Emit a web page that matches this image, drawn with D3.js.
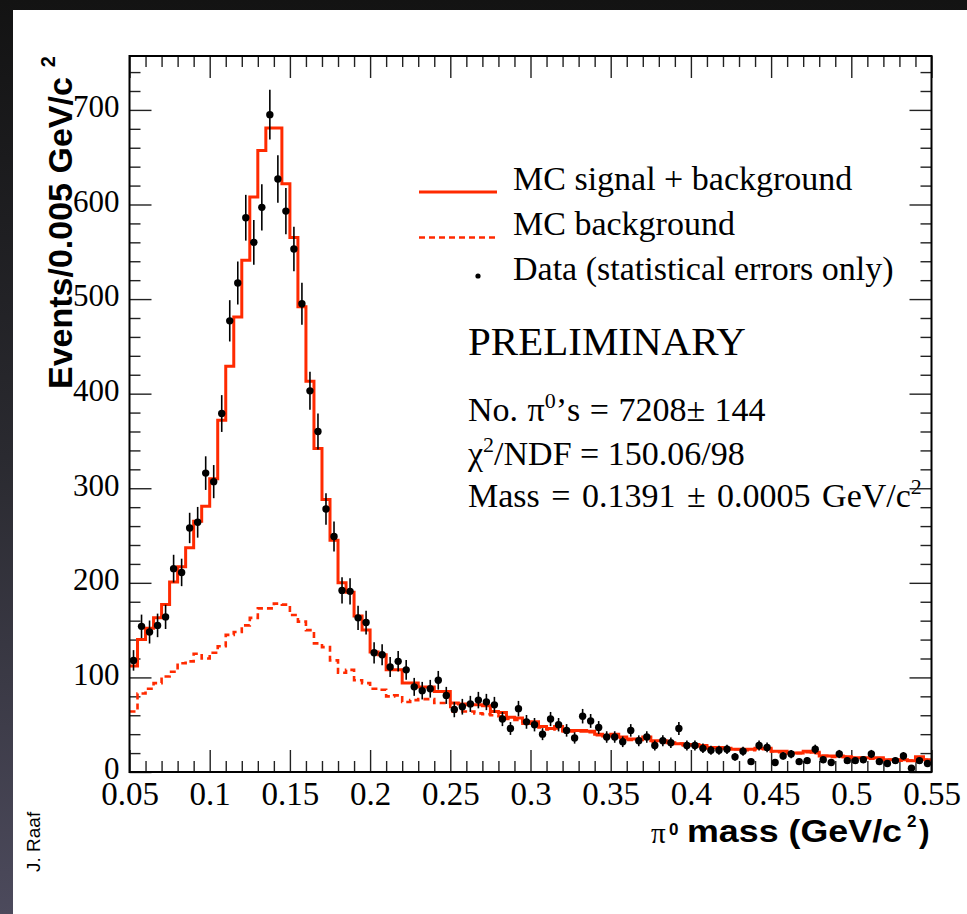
<!DOCTYPE html>
<html>
<head>
<meta charset="utf-8">
<script src="https://cdn.jsdelivr.net/npm/d3@7"></script>
<style>
body { margin: 0; background: #161616; }
svg { display: block; }
</style>
</head>
<body>
<div id="chart"></div>
<script>
// histogram binning: 100 bins of 0.005 GeV/c2 from 0.05 to 0.55
var binLow = 0.05, binWidth = 0.005;

// data counts per bin (statistical errors = sqrt(N))
var dataCounts = [
  118, 154, 148, 155, 164, 215, 211, 258, 264, 316,
  307, 379, 477, 517, 586, 560, 597, 695, 627, 593,
  553, 495, 403, 360, 278, 249, 192, 191, 163, 158,
  126, 124, 111, 117, 108, 90, 86, 88, 97, 81,
  66, 69, 72, 76, 74, 71, 56, 46, 67, 53,
  50, 40, 56, 50, 44, 36, 59, 54, 47, 37,
  37, 32, 44, 33, 37, 28, 33, 31, 46, 28,
  28, 25, 23, 23, 24, 16, 22, 11, 28, 26,
  10, 17, 19, 11, 12, 24, 13, 10, 19, 12,
  12, 13, 19, 11, 9, 12, 17, 4, 12, 9
];

// MC signal + background
var mcTotal = [
  112, 140, 152, 163, 177, 201, 217, 237, 265, 281,
  310, 372, 429, 481, 541, 608, 657, 681, 681, 622,
  565, 492, 413, 342, 288, 245, 200, 190, 165, 150,
  127, 124, 108, 108, 94, 94, 90, 90, 85, 85,
  73, 72, 71, 71, 70, 64, 63, 58, 57, 53,
  53, 48, 46, 48, 44, 44, 44, 43, 40, 38,
  40, 37, 35, 35, 37, 33, 33, 31, 30, 29,
  29, 28, 26, 26, 25, 24, 24, 24, 25, 25,
  22, 22, 20, 20, 22, 21, 17, 17, 17, 16,
  15, 15, 15, 15, 13, 13, 13, 12, 16, 13
];

// MC background only
var mcBackground = [
  64, 83, 88, 94, 101, 106, 115, 117, 125, 120,
  126, 133, 145, 148, 155, 163, 173, 173, 178, 177,
  166, 159, 150, 136, 132, 118, 105, 108, 97, 94,
  88, 87, 80, 81, 74, 76, 77, 77, 73, 73,
  64, 64, 64, 62, 61, 60, 59, 56, 55, 51,
  51, 47, 45, 46, 43, 43, 43, 42, 39, 37,
  39, 36, 34, 34, 36, 32, 32, 30, 30, 28,
  28, 27, 25, 25, 25, 24, 23, 23, 25, 24,
  22, 21, 20, 20, 21, 20, 17, 16, 16, 16,
  15, 15, 14, 14, 13, 13, 12, 12, 15, 13
];

var xTickValues = [0.05, 0.1, 0.15, 0.2, 0.25, 0.3, 0.35, 0.4, 0.45, 0.5, 0.55];
var yTickValues = [0, 100, 200, 300, 400, 500, 600, 700];

var legendLabels = ["MC signal + background", "MC background", "Data (statistical errors only)"];

var margin = { top: 56, right: 35.5, bottom: 142, left: 129.5 },
    width = 967 - margin.left - margin.right,
    height = 914 - margin.top - margin.bottom;

var red = "#ff2a00";
var serif = "'Liberation Serif', 'Times New Roman', serif";
var sans = "'Liberation Sans', Arial, sans-serif";

var svg = d3.select("#chart").append("svg")
    .attr("width", 967)
    .attr("height", 914);

// slide background + white panel
var grad = svg.append("defs").append("linearGradient")
    .attr("id", "bg")
    .attr("x1", 0).attr("y1", 0).attr("x2", 0).attr("y2", 1);
grad.append("stop").attr("offset", "0%").attr("stop-color", "#131313");
grad.append("stop").attr("offset", "50%").attr("stop-color", "#2a2a30");
grad.append("stop").attr("offset", "100%").attr("stop-color", "#4c4a5c");

svg.append("rect").attr("width", 967).attr("height", 914).attr("fill", "url(#bg)");
svg.append("rect").attr("x", 13).attr("y", 10).attr("width", 954).attr("height", 904).attr("fill", "#fff");

var g = svg.append("g")
    .attr("transform", "translate(" + margin.left + "," + margin.top + ")");

var x = d3.scaleLinear().domain([0.05, 0.55]).range([0, width]);
var y = d3.scaleLinear().domain([0, 757]).range([height, 0]);

var xMinor = d3.range(5, 56).filter(function(i) { return i % 5 !== 0; }).map(function(i) { return i / 100; });
var yMinor = d3.range(0, 757, 20).filter(function(v) { return v % 100 !== 0; });

function styleAxis(sel) {
    sel.select(".domain").remove();
    sel.selectAll(".tick line").attr("stroke", "#222").attr("stroke-width", 1.4);
    sel.selectAll("text").attr("fill", "#000");
}

// minor + major ticks on all four sides (inside)
g.append("g").attr("transform", "translate(0," + height + ")")
    .call(d3.axisBottom(x).tickValues(xMinor).tickSize(-11).tickFormat(""))
    .call(styleAxis);
g.append("g").attr("transform", "translate(0," + height + ")")
    .call(d3.axisBottom(x).tickValues(xTickValues).tickSize(-22).tickPadding(10)
        .tickFormat(function(d) { return +d.toFixed(2); }))
    .call(styleAxis)
    .attr("font-family", serif).attr("font-size", 33);
g.append("g")
    .call(d3.axisTop(x).tickValues(xMinor).tickSize(-11).tickFormat(""))
    .call(styleAxis);
g.append("g")
    .call(d3.axisTop(x).tickValues(xTickValues).tickSize(-22).tickFormat(""))
    .call(styleAxis);

g.append("g")
    .call(d3.axisLeft(y).tickValues(yMinor).tickSize(-11).tickFormat(""))
    .call(styleAxis);
g.append("g")
    .call(d3.axisLeft(y).tickValues(yTickValues).tickSize(-22).tickPadding(10))
    .call(styleAxis)
    .attr("font-family", serif).attr("font-size", 31)
    .selectAll("text").attr("dy", "0.22em");
g.append("g").attr("transform", "translate(" + width + ",0)")
    .call(d3.axisRight(y).tickValues(yMinor).tickSize(-11).tickFormat(""))
    .call(styleAxis);
g.append("g").attr("transform", "translate(" + width + ",0)")
    .call(d3.axisRight(y).tickValues(yTickValues).tickSize(-22).tickFormat(""))
    .call(styleAxis);

// histograms
function stepPoints(vals) {
    var pts = vals.map(function(v, i) { return [binLow + i * binWidth, v]; });
    pts.push([binLow + vals.length * binWidth, vals[vals.length - 1]]);
    return pts;
}
var step = d3.line()
    .x(function(d) { return x(d[0]); })
    .y(function(d) { return y(d[1]); })
    .curve(d3.curveStepAfter);

g.append("path")
    .attr("d", step(stepPoints(mcBackground)))
    .attr("fill", "none")
    .attr("stroke", red)
    .attr("stroke-width", 2.6)
    .attr("stroke-dasharray", "6,4");

g.append("path")
    .attr("d", step(stepPoints(mcTotal)))
    .attr("fill", "none")
    .attr("stroke", red)
    .attr("stroke-width", 3);

// data points with sqrt(N) error bars
var pts = g.selectAll(".pt")
    .data(dataCounts)
    .enter().append("g")
    .attr("class", "pt");

pts.append("line")
    .attr("x1", function(d, i) { return x(binLow + (i + 0.5) * binWidth); })
    .attr("x2", function(d, i) { return x(binLow + (i + 0.5) * binWidth); })
    .attr("y1", function(d) { return y(d + Math.sqrt(d)); })
    .attr("y2", function(d) { return y(Math.max(0, d - Math.sqrt(d))); })
    .attr("stroke", "#000")
    .attr("stroke-width", 1.6);

pts.append("circle")
    .attr("cx", function(d, i) { return x(binLow + (i + 0.5) * binWidth); })
    .attr("cy", function(d) { return y(d); })
    .attr("r", 3.7)
    .attr("fill", "#000");

// frame
g.append("rect")
    .attr("width", width)
    .attr("height", height)
    .attr("fill", "none")
    .attr("stroke", "#000")
    .attr("stroke-width", 2);

// legend
var legend = svg.append("g");
legend.append("line")
    .attr("x1", 419).attr("x2", 497).attr("y1", 192).attr("y2", 192)
    .attr("stroke", red).attr("stroke-width", 3);
legend.append("line")
    .attr("x1", 419).attr("x2", 497).attr("y1", 237.5).attr("y2", 237.5)
    .attr("stroke", red).attr("stroke-width", 2.6).attr("stroke-dasharray", "6,4");
legend.append("circle")
    .attr("cx", 478).attr("cy", 276).attr("r", 2.6).attr("fill", "#000");
legend.selectAll("text.leg")
    .data(legendLabels)
    .enter().append("text")
    .attr("class", "leg")
    .attr("x", 513)
    .attr("y", function(d, i) { return 190 + i * 45; })
    .attr("font-family", serif)
    .attr("font-size", 34)
    .attr("fill", "#000")
    .text(function(d) { return d; });

// fit results
svg.append("text")
    .attr("x", 468).attr("y", 355)
    .attr("font-family", serif).attr("font-size", 41)
    .text("PRELIMINARY");

var t1 = svg.append("text")
    .attr("x", 468).attr("y", 421)
    .attr("font-family", serif).attr("font-size", 34)
    .attr("word-spacing", 1);
t1.append("tspan").text("No. \u03c0");
t1.append("tspan").attr("font-size", 22).attr("dy", -13).text("0");
t1.append("tspan").attr("dy", 13).text("\u2019s = 7208\u00b1 144");

var t2 = svg.append("text")
    .attr("x", 468).attr("y", 465)
    .attr("font-family", serif).attr("font-size", 34);
t2.append("tspan").text("\u03c7");
t2.append("tspan").attr("font-size", 22).attr("dy", -13).text("2");
t2.append("tspan").attr("dy", 13).text("/NDF = 150.06/98");

var t3 = svg.append("text")
    .attr("x", 468).attr("y", 507)
    .attr("font-family", serif).attr("font-size", 34)
    .attr("word-spacing", 3);
t3.append("tspan").text("Mass = 0.1391 \u00b1 0.0005 GeV/c");
t3.append("tspan").attr("font-size", 22).attr("dy", -13).text("2");

// y axis title
var yt = svg.append("text")
    .attr("transform", "translate(72,389) rotate(-90)")
    .attr("font-family", sans).attr("font-weight", "bold").attr("font-size", 34)
    .attr("fill", "#000");
yt.append("tspan").text("Events/0.005 GeV/c");
yt.append("tspan").attr("dx", 10).attr("dy", -17).attr("font-size", 20).text("2");

// x axis title
svg.append("text")
    .attr("x", 651).attr("y", 843)
    .attr("font-family", serif).attr("font-size", 29)
    .text("\u03c0");
svg.append("text")
    .attr("x", 669).attr("y", 835)
    .attr("font-family", sans).attr("font-weight", "bold").attr("font-size", 17)
    .text("0");
svg.append("text")
    .attr("x", 687).attr("y", 842)
    .attr("font-family", sans).attr("font-weight", "bold").attr("font-size", 32)
    .attr("textLength", 215).attr("lengthAdjust", "spacingAndGlyphs")
    .text("mass (GeV/c");
svg.append("text")
    .attr("x", 907).attr("y", 827)
    .attr("font-family", sans).attr("font-weight", "bold").attr("font-size", 17)
    .text("2");
svg.append("text")
    .attr("x", 919).attr("y", 842)
    .attr("font-family", sans).attr("font-weight", "bold").attr("font-size", 32)
    .text(")");

// credit
svg.append("text")
    .attr("transform", "translate(40,872) rotate(-90)")
    .attr("font-family", sans).attr("font-size", 19)
    .attr("fill", "#000")
    .text("J. Raaf");
</script>
</body>
</html>
